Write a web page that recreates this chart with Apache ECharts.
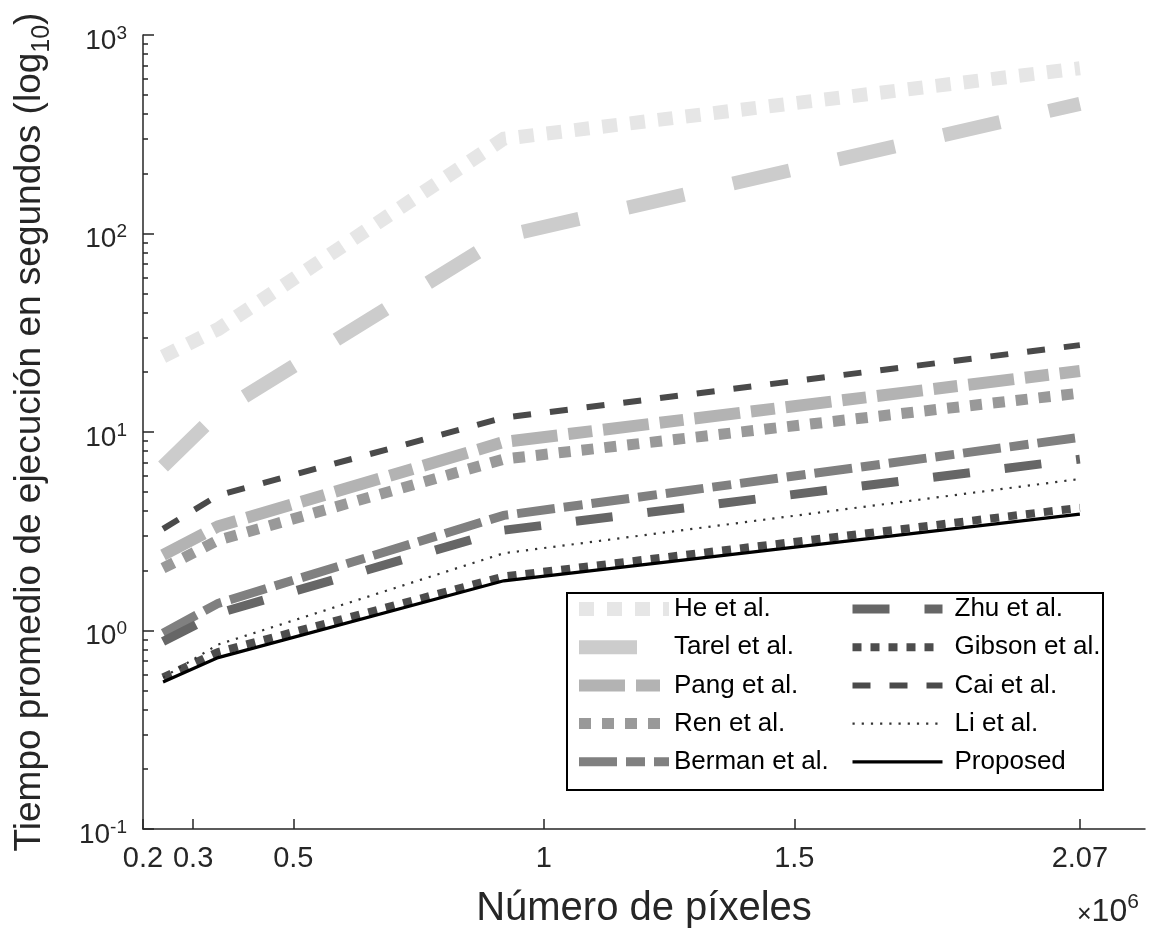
<!DOCTYPE html>
<html>
<head>
<meta charset="utf-8">
<script src="https://cdn.jsdelivr.net/npm/echarts@6/dist/echarts.min.js"></script>
<style>
  html, body { margin: 0; padding: 0; background: #fff; }
  #chart { width: 1161px; height: 936px; }
</style>
</head>
<body>
<div id="chart"></div>
<script>
// pixel counts (x 10^6) and mean run times in seconds
const pixels = [0.24, 0.35, 0.92, 2.07];
const he = [24, 33, 300, 680];
const tarel = [6.7, 12.5, 97, 450];
const pang = [2.4, 3.35, 8.9, 20.3];
const ren = [2.06, 2.85, 7.3, 15.7];
const berman = [0.97, 1.37, 3.8, 9.4];
const zhu = [0.88, 1.22, 3.2, 7.3];
const gibson = [0.58, 0.78, 1.87, 4.15];
const cai = [3.25, 4.8, 11.8, 27.4];
const li = [0.58, 0.85, 2.45, 5.8];
const proposed = [0.55, 0.73, 1.78, 3.86];

const xTicks = [0.2, 0.3, 0.5, 1, 1.5, 2.07];
const yTicks = [0.1, 1, 10, 100, 1000];
const yMinorTicks = [0.2, 0.3, 0.4, 0.5, 0.6, 0.7, 0.8, 0.9,
  2, 3, 4, 5, 6, 7, 8, 9, 20, 30, 40, 50, 60, 70, 80, 90,
  200, 300, 400, 500, 600, 700, 800, 900];

const FONT = "'Liberation Sans', Arial, Helvetica, sans-serif";
const AXIS = '#262626';

function pts(vals) {
  return pixels.map((x, i) => [x, vals[i]]);
}

// name, values, colour, width, dash
const lines = [
  ['He et al.', he, '#e6e6e6', 14, [15, 13]],
  ['Tarel et al.', tarel, '#cccccc', 14, [58, 50]],
  ['Pang et al.', pang, '#b3b3b3', 12, [46, 11, 24, 11]],
  ['Ren et al.', ren, '#999999', 11, [12, 11]],
  ['Berman et al.', berman, '#808080', 9, [38, 9, 19, 9]],
  ['Zhu et al.', zhu, '#666666', 9, [37, 35]],
  ['Gibson et al.', gibson, '#4d4d4d', 8, [9, 9]],
  ['Cai et al.', cai, '#4a4a4a', 6, [18, 19]],
  ['Li et al.', li, '#333333', 2.2, [2.2, 7]],
  ['Proposed', proposed, '#000000', 3.2, 'solid']
];

const chart = echarts.init(document.getElementById('chart'));

const legendBase = {
  orient: 'vertical',
  top: 596,
  padding: 0,
  itemWidth: 90,
  itemHeight: 20,
  itemGap: 12.2,
  selectedMode: false,
  lineStyle: { width: 'inherit' },
  itemStyle: { opacity: 0 },
  textStyle: { fontFamily: FONT, fontSize: 26, color: '#000' }
};

const option = {
  animation: false,
  backgroundColor: '#fff',
  grid: { left: 143, right: 16, top: 35, bottom: 107, outerBoundsMode: 'none' },
  xAxis: {
    type: 'value',
    min: 0.2,
    max: 2.2,
    name: 'Número de píxeles',
    nameLocation: 'middle',
    nameGap: 60,
    nameTextStyle: { fontFamily: FONT, fontSize: 40, color: AXIS },
    axisLine: { lineStyle: { color: AXIS, width: 1.5 } },
    axisTick: { inside: true, length: 10, customValues: xTicks, lineStyle: { color: AXIS, width: 1.5 } },
    axisLabel: {
      customValues: xTicks,
      margin: 15,
      fontFamily: FONT, fontSize: 29, color: AXIS,
      formatter: v => String(v)
    },
    splitLine: { show: false }
  },
  yAxis: [
    {
      type: 'log',
      logBase: 10,
      min: 0.1,
      max: 1000,
      name: '{a|Tiempo promedio de ejecución en segundos (log}{b|10}{a|)}',
      nameLocation: 'middle',
      nameGap: 88,
      nameTextStyle: {
        rich: {
          a: { fontFamily: FONT, fontSize: 37, color: AXIS, lineHeight: 50, verticalAlign: 'middle' },
          b: { fontFamily: FONT, fontSize: 25, color: AXIS, lineHeight: 25, verticalAlign: 'bottom' }
        }
      },
      axisLine: { lineStyle: { color: AXIS, width: 1.5 } },
      axisTick: { inside: true, length: 11, customValues: yTicks, lineStyle: { color: AXIS, width: 1.5 } },
      axisLabel: {
        customValues: yTicks,
        margin: 16,
        padding: [12, 0, 0, 0],
        formatter: v => '{b|10}{s|' + Math.round(Math.log10(v)) + '}',
        rich: {
          b: { fontFamily: FONT, fontSize: 28, color: AXIS, lineHeight: 28, verticalAlign: 'bottom' },
          s: { fontFamily: FONT, fontSize: 19, color: AXIS, lineHeight: 19, padding: [0, 0, 12, 0], verticalAlign: 'bottom' }
        }
      },
      splitLine: { show: false }
    },
    {
      type: 'log',
      logBase: 10,
      min: 0.1,
      max: 1000,
      position: 'left',
      axisLine: { show: false },
      axisTick: { inside: true, length: 5, customValues: yMinorTicks, lineStyle: { color: AXIS, width: 1.5 } },
      axisLabel: { show: false },
      splitLine: { show: false }
    }
  ],
  legend: [
    Object.assign({}, legendBase, {
      left: 572,
      data: lines.slice(0, 5).map(l => l[0]),
      textStyle: Object.assign({}, legendBase.textStyle, { padding: [0, 0, 0, 0] })
    }),
    Object.assign({}, legendBase, {
      left: 848,
      data: lines.slice(5).map(l => l[0]),
      textStyle: Object.assign({}, legendBase.textStyle, { padding: [0, 0, 0, 7] })
    })
  ],
  graphic: [
    {
      type: 'rect',
      z: 3,
      shape: { x: 567, y: 593, width: 536, height: 197 },
      style: { fill: '#fff', stroke: '#000', lineWidth: 2 }
    },
    {
      type: 'text',
      left: 1077,
      top: 892,
      style: {
        text: '{x|×}{n|10}{s|6}',
        rich: {
          x: { fontFamily: FONT, fontSize: 25, fill: AXIS, lineHeight: 32, verticalAlign: 'bottom' },
          n: { fontFamily: FONT, fontSize: 32, fill: AXIS, lineHeight: 32, verticalAlign: 'bottom' },
          s: { fontFamily: FONT, fontSize: 21, fill: AXIS, lineHeight: 21, padding: [0, 0, 15, 0], verticalAlign: 'bottom' }
        }
      }
    }
  ],
  series: lines.map(l => ({
    name: l[0],
    type: 'line',
    yAxisIndex: 0,
    data: pts(l[1]),
    symbol: 'none',
    showSymbol: false,
    lineStyle: { color: l[2], width: l[3], type: l[4], cap: 'butt', join: 'miter' },
    itemStyle: { color: l[2] },
    emphasis: { disabled: true }
  }))
};

chart.setOption(option);
</script>
</body>
</html>
